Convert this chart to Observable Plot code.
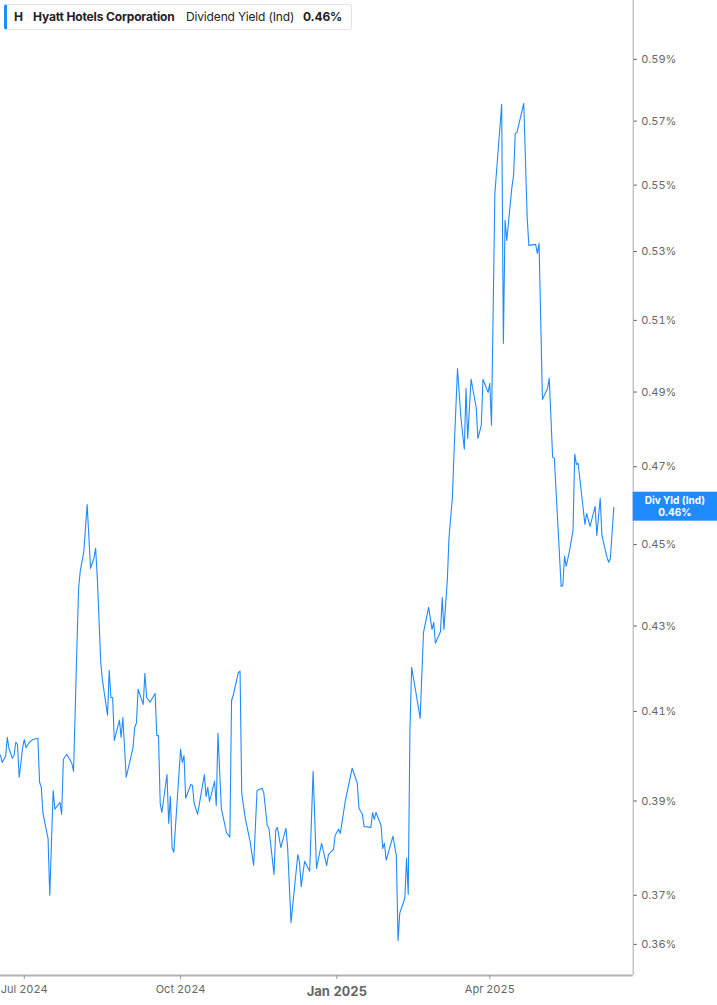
<!DOCTYPE html>
<html>
<head>
<meta charset="utf-8">
<script src="https://cdn.jsdelivr.net/npm/d3@7"></script>
<script src="https://cdn.jsdelivr.net/npm/@observablehq/plot@0.6"></script>
<style>
  html, body { margin: 0; padding: 0; background: #fff; }
  #wrap { position: relative; width: 717px; height: 1005px; overflow: hidden; font-family: Inter, Roboto, sans-serif; }
  #legend { position: absolute; left: 4px; top: 4px; width: 348px; height: 26px; box-sizing: border-box;
    border: 1px solid #e3e3e3; border-left: 3px solid #1f8bff; border-radius: 3px; background: #fff;
    font-size: 12px; color: #222; line-height: 24px; white-space: nowrap; letter-spacing: -0.15px; }
  #legend span { position: absolute; top: 0; }
</style>
</head>
<body>
<div id="wrap">
  <div id="chart"></div>
  <div id="legend">
    <span style="left:7px;font-weight:700">H</span>
    <span style="left:26px;font-weight:700">Hyatt Hotels Corporation</span>
    <span style="left:179px;">Dividend Yield (Ind)</span>
    <span style="left:296px;font-weight:700">0.46%</span>
  </div>
</div>
<script>
// ---- data (dividend yield, %) ----
const dates = [
"2024-06-17","2024-06-18","2024-06-20","2024-06-21","2024-06-22","2024-06-24","2024-06-25","2024-06-26","2024-06-27","2024-06-28",
"2024-06-29","2024-06-30","2024-07-01","2024-07-02","2024-07-04","2024-07-06","2024-07-09","2024-07-10","2024-07-11","2024-07-12",
"2024-07-15","2024-07-16","2024-07-18","2024-07-19","2024-07-22","2024-07-23","2024-07-24","2024-07-26","2024-07-29","2024-07-30",
"2024-08-01","2024-08-02","2024-08-03","2024-08-05","2024-08-07","2024-08-09","2024-08-11","2024-08-12","2024-08-13","2024-08-15",
"2024-08-16","2024-08-19","2024-08-20","2024-08-21","2024-08-22","2024-08-23","2024-08-26","2024-08-27","2024-08-28","2024-08-30",
"2024-09-03","2024-09-04","2024-09-05","2024-09-06","2024-09-09","2024-09-10","2024-09-11","2024-09-13","2024-09-16","2024-09-17",
"2024-09-18","2024-09-19","2024-09-20","2024-09-23","2024-09-24","2024-09-25","2024-09-26","2024-09-27","2024-10-01","2024-10-02",
"2024-10-03","2024-10-04","2024-10-07","2024-10-08","2024-10-09","2024-10-11","2024-10-15","2024-10-16","2024-10-17","2024-10-18",
"2024-10-21","2024-10-22","2024-10-23","2024-10-25","2024-10-28","2024-10-30","2024-10-31","2024-11-01","2024-11-04","2024-11-05",
"2024-11-06","2024-11-08","2024-11-11","2024-11-13","2024-11-15","2024-11-18","2024-11-19","2024-11-21","2024-11-22","2024-11-25",
"2024-11-26","2024-11-27","2024-11-29","2024-12-02","2024-12-03","2024-12-05","2024-12-09","2024-12-10","2024-12-11","2024-12-13",
"2024-12-16","2024-12-18","2024-12-20","2024-12-23","2024-12-26","2024-12-27","2024-12-30","2024-12-31","2025-01-02","2025-01-03",
"2025-01-06","2025-01-10","2025-01-13","2025-01-14","2025-01-16","2025-01-17","2025-01-21","2025-01-22","2025-01-23","2025-01-24",
"2025-01-27","2025-01-28","2025-01-29","2025-01-30","2025-02-01","2025-02-03","2025-02-05","2025-02-06","2025-02-07","2025-02-10",
"2025-02-11","2025-02-12","2025-02-13","2025-02-14","2025-02-17","2025-02-19","2025-02-21","2025-02-24","2025-02-26","2025-02-27",
"2025-02-28","2025-03-03","2025-03-04","2025-03-05","2025-03-07","2025-03-08","2025-03-10","2025-03-11","2025-03-13","2025-03-15",
"2025-03-17","2025-03-18","2025-03-19","2025-03-21","2025-03-24","2025-03-25","2025-03-27","2025-03-28","2025-03-31","2025-04-01",
"2025-04-02","2025-04-04","2025-04-08","2025-04-09","2025-04-10","2025-04-11","2025-04-14","2025-04-15","2025-04-16","2025-04-17",
"2025-04-21","2025-04-23","2025-04-24","2025-04-28","2025-04-29","2025-04-30","2025-05-02","2025-05-05","2025-05-06","2025-05-08",
"2025-05-09","2025-05-13","2025-05-14","2025-05-15","2025-05-16","2025-05-18","2025-05-20","2025-05-21","2025-05-22","2025-05-23",
"2025-05-27","2025-05-28","2025-05-30","2025-06-02","2025-06-03","2025-06-05","2025-06-06","2025-06-09","2025-06-10","2025-06-11",
"2025-06-13"
];
const yields = [
0.4001,0.3985,0.3998,0.4041,0.4016,0.3994,0.4001,0.4030,0.4025,0.3952,
0.3983,0.4018,0.4036,0.4018,0.4030,0.4036,0.4039,0.3941,0.3930,0.3873,
0.3819,0.3700,0.3923,0.3882,0.3897,0.3871,0.3992,0.4003,0.3983,0.3965,
0.4254,0.4394,0.4436,0.4481,0.4602,0.4441,0.4466,0.4491,0.4416,0.4214,
0.4172,0.4091,0.4195,0.4132,0.4132,0.4034,0.4080,0.4041,0.4086,0.3952,
0.4018,0.4064,0.4073,0.4151,0.4116,0.4188,0.4132,0.4121,0.4141,0.4045,
0.4045,0.3895,0.3875,0.3958,0.3852,0.3910,0.3800,0.3790,0.4014,0.3985,
0.4000,0.3906,0.3936,0.3934,0.3895,0.3871,0.3958,0.3910,0.3930,0.3899,
0.3943,0.3890,0.4050,0.3884,0.3832,0.3822,0.4125,0.4137,0.4190,0.4193,
0.3917,0.3864,0.3811,0.3762,0.3923,0.3928,0.3917,0.3847,0.3841,0.3743,
0.3837,0.3843,0.3800,0.3841,0.3800,0.3644,0.3785,0.3769,0.3718,0.3771,
0.3750,0.3965,0.3756,0.3809,0.3762,0.3785,0.3796,0.3826,0.3839,0.3830,
0.3901,0.3972,0.3939,0.3884,0.3871,0.3845,0.3843,0.3875,0.3860,0.3875,
0.3847,0.3798,0.3809,0.3773,0.3798,0.3824,0.3783,0.3608,0.3663,0.3694,
0.3777,0.3702,0.4059,0.4202,0.4132,0.4084,0.4285,0.4345,0.4292,0.4309,
0.4259,0.4287,0.4369,0.4292,0.4411,0.4518,0.4620,0.4743,0.4965,0.4831,
0.4746,0.4910,0.4775,0.4935,0.4858,0.4775,0.4810,0.4935,0.4899,0.4924,
0.4810,0.5475,0.5754,0.5035,0.5393,0.5333,0.5493,0.5530,0.5661,0.5664,
0.5757,0.5402,0.5318,0.5321,0.5294,0.5324,0.4880,0.4910,0.4938,0.4725,
0.4722,0.4396,0.4399,0.4471,0.4446,0.4486,0.4536,0.4733,0.4706,0.4709,
0.4551,0.4579,0.4546,0.4597,0.4523,0.4618,0.4523,0.4468,0.4456,0.4466,
0.4595
];
const yTicks = [0.36, 0.37, 0.39, 0.41, 0.43, 0.45, 0.47, 0.49, 0.51, 0.53, 0.55, 0.57, 0.59];
const xTickDates = ["2024-07-01", "2024-10-01", "2025-04-01"];
const xTickLabels = ["Jul 2024", "Oct 2024", "Apr 2025"];
const xYearTickDates = ["2025-01-01"];
const xYearTickLabels = ["Jan 2025"];
const seriesLabel = "Div Yld (Ind)";
const lastLabel = "0.46%";

const data = dates.map((d, i) => ({date: new Date(d), value: yields[i]}));
const xDomain = [new Date("2024-06-17T00:00Z"), new Date("2025-06-24T10:00Z")];
const yDomain = [0.3538, 0.6097];
const fmtX = (ds, ls) => (d) => ls[ds.findIndex(s => +new Date(s) === +d)];

const W = 717, H = 1005, MR = 84.3, MB = 30;
const chart = Plot.plot({
  width: W, height: H,
  marginLeft: 0, marginRight: MR, marginTop: 0, marginBottom: MB,
  style: {fontFamily: "Inter, Roboto, sans-serif", background: "#fff", overflow: "visible"},
  x: {type: "utc", domain: xDomain},
  y: {type: "log", domain: yDomain},
  marks: [
    Plot.ruleY([yDomain[0]], {stroke: "#b3b3b3", strokeWidth: 2}),
    Plot.ruleX([xDomain[1]], {stroke: "#a8a8a8", strokeWidth: 1}),
    Plot.axisX({ticks: xTickDates.map(s => new Date(s)), tickFormat: fmtX(xTickDates, xTickLabels),
      tickSize: 4, tickPadding: 6, fontSize: 11, fill: "#666", stroke: "#999", label: null}),
    Plot.axisX({ticks: xYearTickDates.map(s => new Date(s)), tickFormat: fmtX(xYearTickDates, xYearTickLabels),
      tickSize: 4, tickPadding: 7, fontSize: 13, fontWeight: "bold", fill: "#666", stroke: "#999", label: null}),
    Plot.axisY({anchor: "right", ticks: yTicks, tickFormat: d => d.toFixed(2) + "%",
      tickSize: 3, tickPadding: 5, fontSize: 11, fill: "#666", stroke: "#555", label: null}),
    Plot.line(data, {x: "date", y: "value", stroke: "#1f8bff", strokeWidth: 1.1})
  ]
});
document.getElementById("chart").appendChild(chart);

// value badge on the right, positioned with the plot's own y scale
const last = data[data.length - 1];
const yPix = chart.scale("y").apply(last.value);
const x0 = chart.scale("x").apply(xDomain[1]);
const svg = d3.select(chart);
const g = svg.append("g");
g.append("rect").attr("x", x0).attr("y", yPix - 15).attr("width", W - x0).attr("height", 29).attr("fill", "#1f8bff");
g.append("text").attr("x", x0 + (W - x0) / 2).attr("y", yPix - 3).attr("text-anchor", "middle")
  .attr("fill", "#fff").attr("font-size", 10).attr("font-weight", "bold").text(seriesLabel);
g.append("text").attr("x", x0 + (W - x0) / 2).attr("y", yPix + 9.5).attr("text-anchor", "middle")
  .attr("fill", "#fff").attr("font-size", 10).attr("font-weight", "bold").text(lastLabel);
</script>
</body>
</html>
